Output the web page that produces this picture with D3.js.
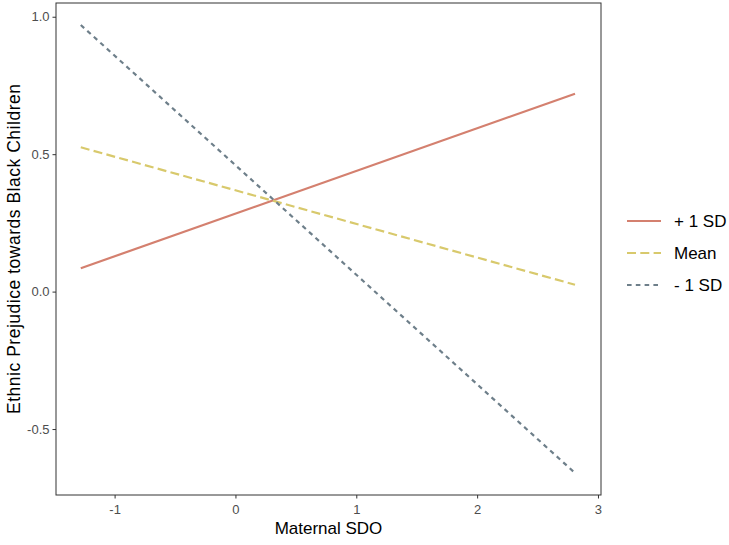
<!DOCTYPE html>
<html><head><meta charset="utf-8">
<script src="https://cdn.jsdelivr.net/npm/d3@7"></script>
<style>body{margin:0;background:#fff}svg{display:block}text{font-family:"Liberation Sans",Arial,sans-serif}</style>
</head><body><div id="chart"></div>
<script>
const seriesNames = ["+ 1 SD", "Mean", "- 1 SD"];
const xValues = [-1.28, 2.81];
const plusSD = [0.085, 0.72];
const meanVals = [0.525, 0.025];
const minusSD = [0.97, -0.66];
const xTicks = [-1, 0, 1, 2, 3];
const yTicks = [-0.5, 0.0, 0.5, 1.0];
const colors = ["#d4806f", "#d8c96c", "#6e7f8a"];
const dashes = [null, "9,4.3", "4.6,4.2"];

const W = 729, H = 545;
const m = {left: 56, right: 128, top: 3, bottom: 50};
const svg = d3.select("#chart").append("svg").attr("width", W).attr("height", H);
const x = d3.scaleLinear().domain([-1.485, 3.025]).range([m.left, W - m.right]);
const y = d3.scaleLinear().domain([-0.74, 1.05]).range([H - m.bottom, m.top]);

const seriesVals = [plusSD, meanVals, minusSD];
const line = d3.line().x(d => x(d[0])).y(d => y(d[1]));
seriesVals.forEach((vals, i) => {
  svg.append("path").datum(xValues.map((xv, j) => [xv, vals[j]]))
    .attr("d", line).attr("fill", "none").attr("stroke", colors[i])
    .attr("stroke-width", 2.2).attr("stroke-dasharray", dashes[i]);
});

const fmtX = d => String(d).replace("\u2212", "-");
const fmtY = d => d3.format(".1f")(d).replace("\u2212", "-");
const xAxis = svg.append("g").attr("transform", `translate(0,${H - m.bottom})`)
  .call(d3.axisBottom(x).tickValues(xTicks).tickFormat(fmtX).tickSize(3.5).tickSizeOuter(0));
const yAxis = svg.append("g").attr("transform", `translate(${m.left},0)`)
  .call(d3.axisLeft(y).tickValues(yTicks).tickFormat(fmtY).tickSize(3.5).tickSizeOuter(0));
[xAxis, yAxis].forEach(g => {
  g.select(".domain").remove();
  g.selectAll(".tick line").attr("stroke", "#333").attr("stroke-width", 1);
  g.selectAll(".tick text").attr("fill", "#4d4d4d").style("font-size", "13px");
});
xAxis.selectAll(".tick text").attr("dy", "0.95em");
yAxis.selectAll(".tick text").attr("dx", "0px");

svg.append("rect").attr("x", m.left).attr("y", m.top)
  .attr("width", W - m.right - m.left).attr("height", H - m.bottom - m.top)
  .attr("fill", "none").attr("stroke", "#333").attr("stroke-width", 1);

svg.append("text").attr("x", (m.left + W - m.right) / 2).attr("y", 534)
  .attr("text-anchor", "middle").style("font-size", "17px").attr("fill", "#000").text("Maternal SDO");
svg.append("text").attr("transform", `translate(20,${(m.top + H - m.bottom) / 2}) rotate(-90)`)
  .attr("text-anchor", "middle").style("font-size", "17.5px").attr("fill", "#000")
  .attr("textLength", 330).attr("lengthAdjust", "spacing")
  .text("Ethnic Prejudice towards Black Children");

const legY = [221, 253, 285];
seriesNames.forEach((name, i) => {
  const g = svg.append("g");
  g.append("line").attr("x1", 627).attr("x2", 661).attr("y1", legY[i]).attr("y2", legY[i])
    .attr("stroke", colors[i]).attr("stroke-width", 2.2).attr("stroke-dasharray", dashes[i]);
  g.append("text").attr("x", 674).attr("y", legY[i]).attr("dy", "0.35em")
    .style("font-size", "17px").attr("fill", "#000").text(name);
});
</script></body></html>
